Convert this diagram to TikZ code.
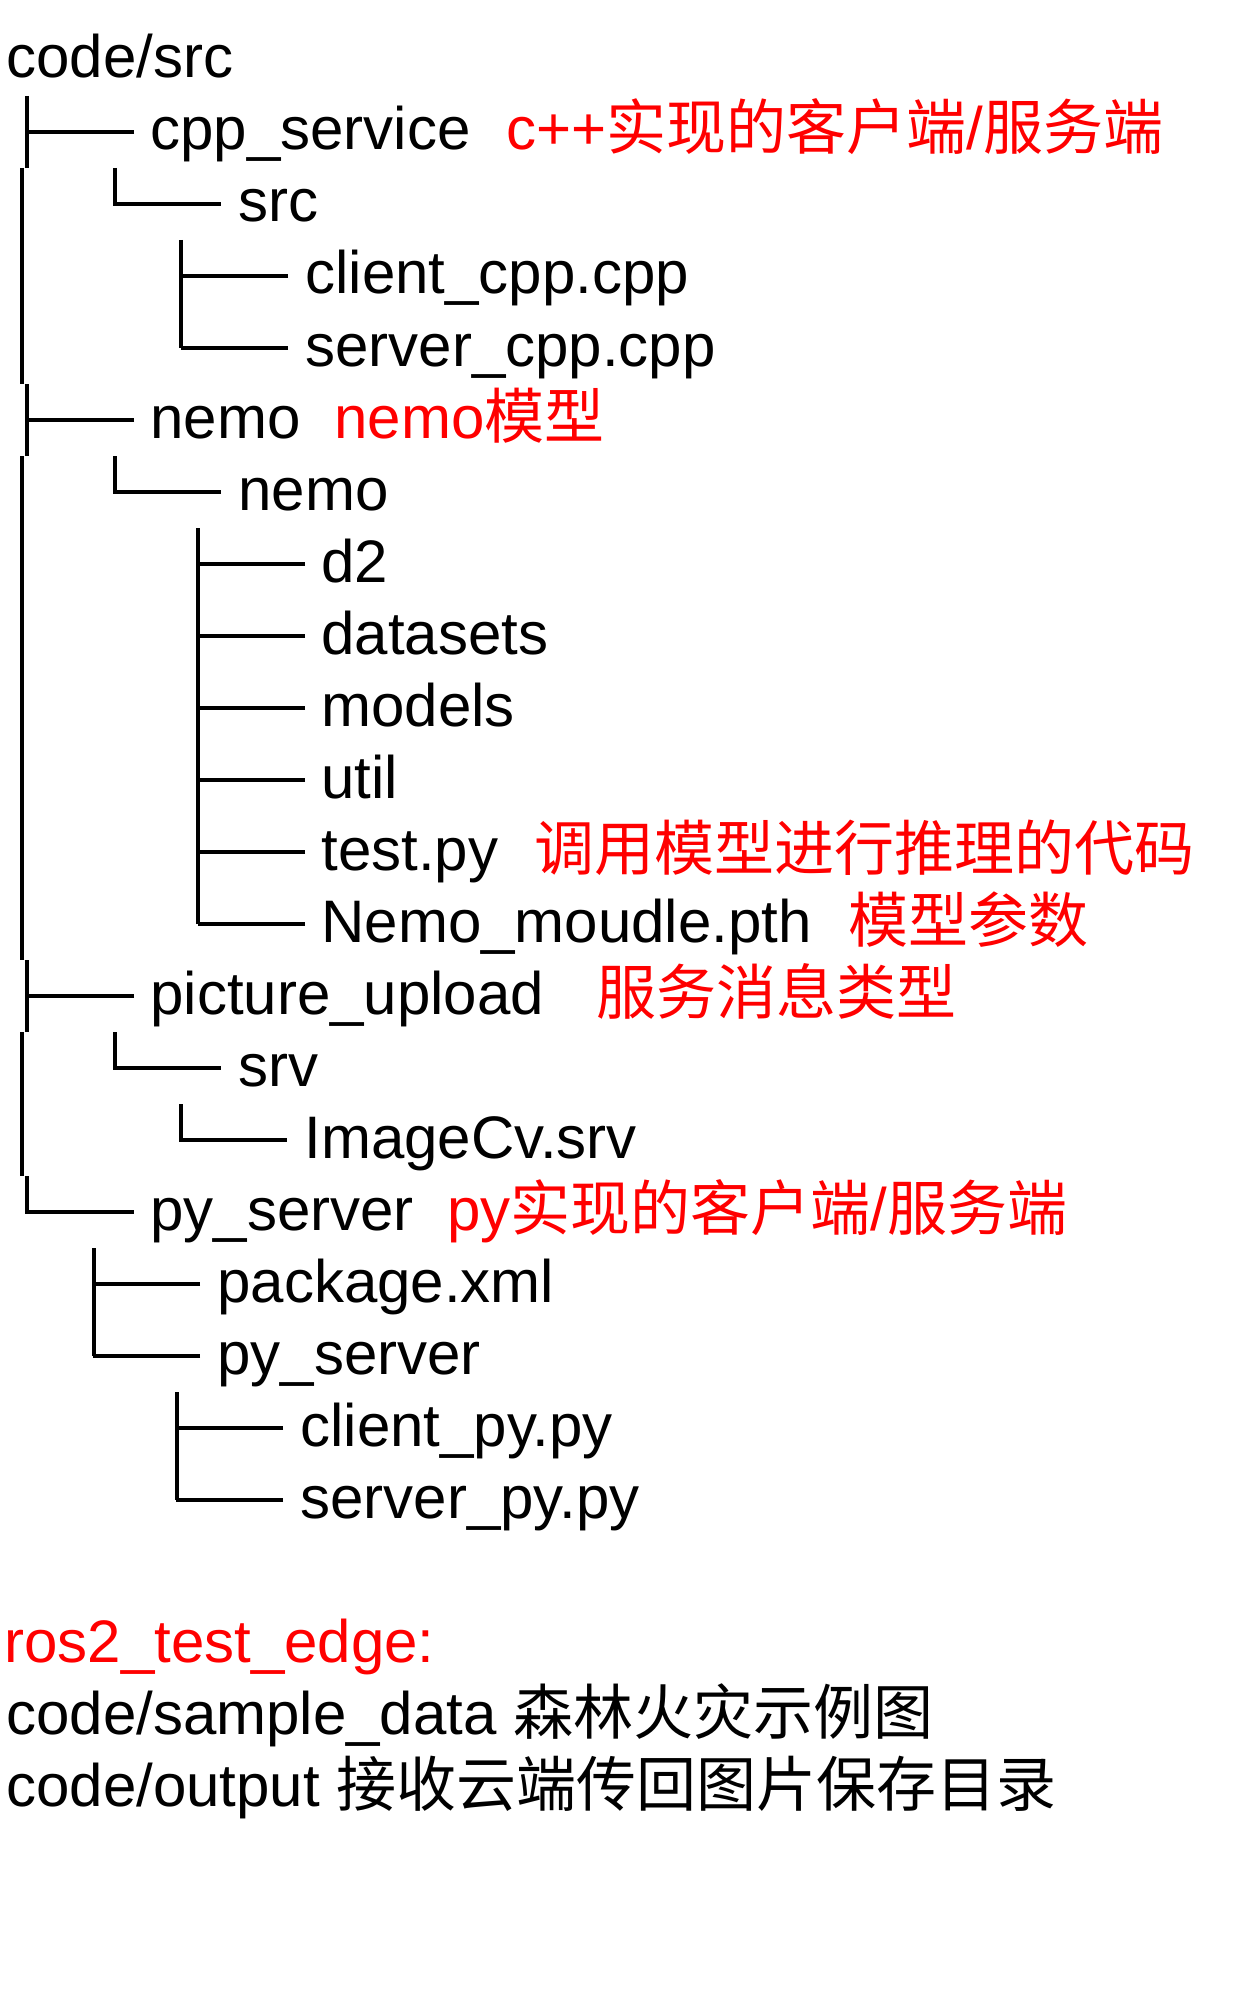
\documentclass[tikz,border=0pt]{standalone}
\usepackage{fontspec}
\setmainfont{Liberation Sans}
\newfontfamily\zhfont{Noto Sans CJK SC}
\newcommand{\zh}[1]{{\zhfont #1}}
\tikzset{
  entry/.style={anchor=base west, inner sep=0pt,
                font=\fontsize{30}{36}\selectfont},
  note/.style={entry, text=red},
  twig/.style={line width=2pt},
}

\begin{document}
\begin{tikzpicture}[x=0.5pt, y=-0.5pt]
  \useasboundingbox (0,0) rectangle (1239,1995);
  % entries
  \node[entry] (root) at (6,78) {code/src};
  \node[entry] (cpp) at (150,150) {cpp\_service};
  \node[note] (cppnote) at (506,150) {c++\zh{实现的客户端}/\zh{服务端}};
  \node[entry] (cppsrc) at (238,222) {src};
  \node[entry] (clientcpp) at (305,294) {client\_cpp.cpp};
  \node[entry] (servercpp) at (305,366) {server\_cpp.cpp};
  \node[entry] (nemo) at (150,438) {nemo};
  \node[note] (nemonote) at (334,438) {nemo\zh{模型}};
  \node[entry] (nemoin) at (238,510) {nemo};
  \node[entry] (dtwo) at (321,582) {d2};
  \node[entry] (datasets) at (321,654) {datasets};
  \node[entry] (models) at (321,726) {models};
  \node[entry] (util) at (321,798) {util};
  \node[entry] (testpy) at (321,870) {test.py};
  \node[note] (testnote) at (534,870) {\zh{调用模型进行推理的代码}};
  \node[entry] (pth) at (321,942) {Nemo\_moudle.pth};
  \node[note] (pthnote) at (848,942) {\zh{模型参数}};
  \node[entry] (upload) at (150,1014) {picture\_upload};
  \node[note] (uploadnote) at (596,1014) {\zh{服务消息类型}};
  \node[entry] (srv) at (238,1086) {srv};
  \node[entry] (imagecv) at (304,1158) {ImageCv.srv};
  \node[entry] (pyserver) at (150,1230) {py\_server};
  \node[note] (pynote) at (447,1230) {py\zh{实现的客户端}/\zh{服务端}};
  \node[entry] (package) at (217,1302) {package.xml};
  \node[entry] (pyin) at (217,1374) {py\_server};
  \node[entry] (clientpy) at (300,1446) {client\_py.py};
  \node[entry] (serverpy) at (300,1518) {server\_py.py};
  % footer
  \node[note] (edge) at (4,1662) {ros2\_test\_edge:};
  \node[entry] (sample) at (6,1734) {code/sample\_data \zh{森林火灾示例图}};
  \node[entry] (output) at (6,1806) {code/output \zh{接收云端传回图片保存目录}};
  % trunk lines
  \draw[twig] (27,96) -- (27,168);
  \draw[twig] (22,168) -- (22,384);
  \draw[twig] (27,384) -- (27,456);
  \draw[twig] (22,456) -- (22,960);
  \draw[twig] (27,960) -- (27,1032);
  \draw[twig] (22,1032) -- (22,1176);
  \draw[twig] (181,240) -- (181,348);
  \draw[twig] (198,528) -- (198,924);
  \draw[twig] (94,1248) -- (94,1356);
  \draw[twig] (177,1392) -- (177,1500);
  % branches
  \draw[twig] (cpp.base west) ++(-16,-18) -- ++(-107,0);
  \draw[twig] (115,168) |- ([shift={(-17,-18)}]cppsrc.base west);
  \draw[twig] (clientcpp.base west) ++(-17,-18) -- ++(-107,0);
  \draw[twig] (servercpp.base west) ++(-17,-18) -- ++(-107,0);
  \draw[twig] (nemo.base west) ++(-16,-18) -- ++(-107,0);
  \draw[twig] (115,456) |- ([shift={(-17,-18)}]nemoin.base west);
  \draw[twig] (dtwo.base west) ++(-16,-18) -- ++(-107,0);
  \draw[twig] (datasets.base west) ++(-16,-18) -- ++(-107,0);
  \draw[twig] (models.base west) ++(-16,-18) -- ++(-107,0);
  \draw[twig] (util.base west) ++(-16,-18) -- ++(-107,0);
  \draw[twig] (testpy.base west) ++(-16,-18) -- ++(-107,0);
  \draw[twig] (pth.base west) ++(-16,-18) -- ++(-107,0);
  \draw[twig] (upload.base west) ++(-16,-18) -- ++(-107,0);
  \draw[twig] (115,1032) |- ([shift={(-17,-18)}]srv.base west);
  \draw[twig] (181,1104) |- ([shift={(-17,-18)}]imagecv.base west);
  \draw[twig] (27,1176) |- ([shift={(-16,-18)}]pyserver.base west);
  \draw[twig] (package.base west) ++(-17,-18) -- ++(-107,0);
  \draw[twig] (pyin.base west) ++(-17,-18) -- ++(-107,0);
  \draw[twig] (clientpy.base west) ++(-17,-18) -- ++(-107,0);
  \draw[twig] (serverpy.base west) ++(-17,-18) -- ++(-107,0);
\end{tikzpicture}
\end{document}
